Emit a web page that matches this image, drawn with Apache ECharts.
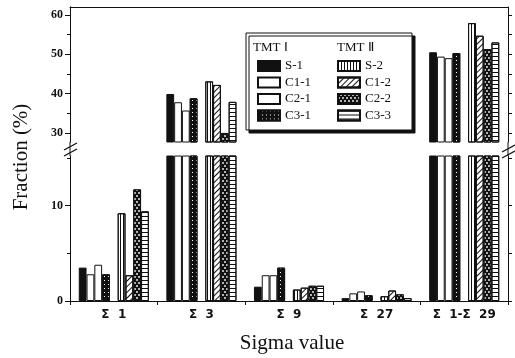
<!DOCTYPE html>
<html><head><meta charset="utf-8">
<script src="https://cdn.jsdelivr.net/npm/echarts@6/dist/echarts.min.js"></script>
<style>html,body{margin:0;padding:0;background:#fff}#c{width:515px;height:358px}</style>
</head><body><div id="c"></div>
<script>
const categories = ['Σ  1', 'Σ  3', 'Σ  9', 'Σ  27', 'Σ  1-Σ  29'];
const S1  = [3.5, 39.9, 1.5, 0.3, 50.5];
const C11 = [2.8, 37.8, 2.7, 0.8, 49.4];
const C21 = [3.8, 35.7, 2.7, 1.0, 49.0];
const C31 = [2.8, 38.8, 3.5, 0.6, 50.3];
const S2  = [9.2, 43.1, 1.2, 0.5, 57.9];
const C12 = [2.7, 42.2, 1.4, 1.1, 54.7];
const C22 = [11.7, 30.0, 1.6, 0.7, 51.3];
const C33 = [9.4, 37.9, 1.6, 0.3, 53.0];
const upperTicks = [30, 40, 50, 60];
const upperMinor = [35, 45, 55];
const upperRight = [30, 35, 40, 45, 50, 55, 60];
const lowerTicks = [0, 10];
const lowerMinor = [5, 15];
const lowerRight = [0, 5, 10, 15];

const INK = '#111';
const FONT = 'Liberation Serif';
const L = 70, R = 7, UT = 7, UB = 142, LT = 156, LB = 301, W = 515, H = 358;

const seriesDefs = [
  {name: 'S-1', data: S1, style: {color: INK}},
  {name: 'C1-1', data: C11, style: {color: '#fff'}},
  {name: 'C2-1', data: C21, style: {color: '#fff'}},
  {name: 'C3-1', data: C31, style: {color: INK, decal: {symbol: 'rect', symbolSize: 1, color: '#fff', dashArrayX: [1, 3], dashArrayY: [1, 3]}}},
  {name: '', data: [null, null, null, null, null], spacer: true},
  {name: 'S-2', data: S2, style: {color: '#fff', decal: {symbol: 'rect', symbolSize: 1, color: INK, dashArrayX: [1, 1.6], dashArrayY: [1, 0]}}},
  {name: 'C1-2', data: C12, style: {color: '#fff', decal: {symbol: 'rect', symbolSize: 1, color: INK, dashArrayX: [1, 0], dashArrayY: [1, 2.2], rotation: -Math.PI / 4}}},
  {name: 'C2-2', data: C22, style: {color: INK, decal: {symbol: 'circle', symbolSize: 0.9, color: '#fff', dashArrayX: [[2, 1.5], [0, 1.75, 2, 0]], dashArrayY: [2, 0.5]}}},
  {name: 'C3-3', data: C33, style: {color: '#fff', decal: {symbol: 'rect', symbolSize: 1, color: INK, dashArrayX: [1, 0], dashArrayY: [1, 2.2]}}}
];

const series = [];
[0, 1].forEach(g => {
  seriesDefs.forEach(d => {
    series.push({
      type: 'bar', name: d.name, data: d.data,
      xAxisIndex: g, yAxisIndex: g * 3,
      barGap: '0%', barCategoryGap: '20%',
      clip: true, silent: true,
      itemStyle: Object.assign({borderColor: INK, borderWidth: 1}, d.style || {color: 'transparent', borderWidth: 0}),
      z: 2
    });
  });
});

const lineStyle = {color: INK, width: 1};
const labelStyle = {fontFamily: FONT, fontSize: 12, fontWeight: 'bold', color: INK, margin: 7};
function yAx(grid, min, max, pos, ticks, tlen, labels) {
  return {
    type: 'value', gridIndex: grid, min: min, max: max, position: pos,
    axisLine: {show: true, lineStyle: lineStyle},
    axisTick: {show: true, length: tlen, inside: false, lineStyle: lineStyle, customValues: ticks},
    axisLabel: labels ? Object.assign({show: true, customValues: labels}, labelStyle) : {show: false},
    splitLine: {show: false}
  };
}

const legendText = {fontFamily: FONT, fontSize: 13, color: INK, lineHeight: 14};
const option = {
  animation: false,
  backgroundColor: '#fff',
  grid: [
    {left: L, right: R, top: UT, height: UB - UT},
    {left: L, right: R, top: LT, height: LB - LT}
  ],
  xAxis: [
    {type: 'category', gridIndex: 0, data: categories, position: 'top',
     axisLine: {show: true, lineStyle: lineStyle}, axisTick: {show: false}, axisLabel: {show: false}},
    {type: 'category', gridIndex: 1, data: categories, position: 'bottom',
     axisLine: {show: true, lineStyle: lineStyle},
     axisTick: {show: true, length: 4, lineStyle: lineStyle},
     axisLabel: {fontFamily: 'DejaVu Sans', fontSize: 12, fontWeight: 'bold', color: INK, margin: 8}}
  ],
  yAxis: [
    yAx(0, 27.7, 62, 'left', upperTicks, 5, upperTicks),
    yAx(0, 27.7, 62, 'left', upperMinor, 3, null),
    yAx(0, 27.7, 62, 'right', upperRight, 4, null),
    yAx(1, 0, 15.2, 'left', lowerTicks, 5, lowerTicks),
    yAx(1, 0, 15.2, 'left', lowerMinor, 3, null),
    yAx(1, 0, 15.2, 'right', lowerRight, 4, null)
  ],
  legend: [
    {data: ['S-1', 'C1-1', 'C2-1', 'C3-1'], orient: 'vertical', left: 257, top: 59, padding: 0,
     itemWidth: 22, itemHeight: 10, itemGap: 2.5, icon: 'rect', selectedMode: false, z: 10,
     textStyle: legendText},
    {data: ['S-2', 'C1-2', 'C2-2', 'C3-3'], orient: 'vertical', left: 337, top: 59, padding: 0,
     itemWidth: 22, itemHeight: 10, itemGap: 2.5, icon: 'rect', selectedMode: false, z: 10,
     textStyle: legendText}
  ],
  graphic: [
    {type: 'rect', z: 5, shape: {x: 246, y: 33, width: 166, height: 97},
     style: {fill: '#fff', stroke: INK, lineWidth: 1, shadowColor: INK, shadowOffsetX: 3, shadowOffsetY: 3, shadowBlur: 0}},
    {type: 'text', z: 11, left: 253, top: 41, style: {text: 'TMT Ⅰ', font: '13px "Liberation Serif"', fill: INK}},
    {type: 'text', z: 11, left: 337, top: 41, style: {text: 'TMT Ⅱ', font: '13px "Liberation Serif"', fill: INK}},
    // axis breaks
    {type: 'line', z: 6, shape: {x1: L, y1: UB, x2: L, y2: LT}, style: {stroke: INK, lineWidth: 1}},
    {type: 'line', z: 6, shape: {x1: 64, y1: 150, x2: 77, y2: 143}, style: {stroke: INK, lineWidth: 1.3}},
    {type: 'line', z: 6, shape: {x1: 64, y1: 156, x2: 77, y2: 149}, style: {stroke: INK, lineWidth: 1.3}},
    {type: 'line', z: 6, shape: {x1: W - R, y1: UB, x2: W - R, y2: LT}, style: {stroke: INK, lineWidth: 1}},
    {type: 'line', z: 6, shape: {x1: 502, y1: 152, x2: 515, y2: 145}, style: {stroke: INK, lineWidth: 1.3}},
    {type: 'line', z: 6, shape: {x1: 502, y1: 158, x2: 515, y2: 151}, style: {stroke: INK, lineWidth: 1.3}},
    // axis titles
    {type: 'text', z: 11, x: 21, y: 157, rotation: Math.PI / 2,
     style: {text: 'Fraction (%)', font: '21px "Liberation Serif"', fill: INK, align: 'center', verticalAlign: 'middle'}},
    {type: 'text', z: 11, x: 292, y: 343,
     style: {text: 'Sigma value', font: '21px "Liberation Serif"', fill: INK, align: 'center', verticalAlign: 'middle'}}
  ],
  series: series
};
echarts.init(document.getElementById('c'), null, {renderer: 'canvas'}).setOption(option);
</script></body></html>
